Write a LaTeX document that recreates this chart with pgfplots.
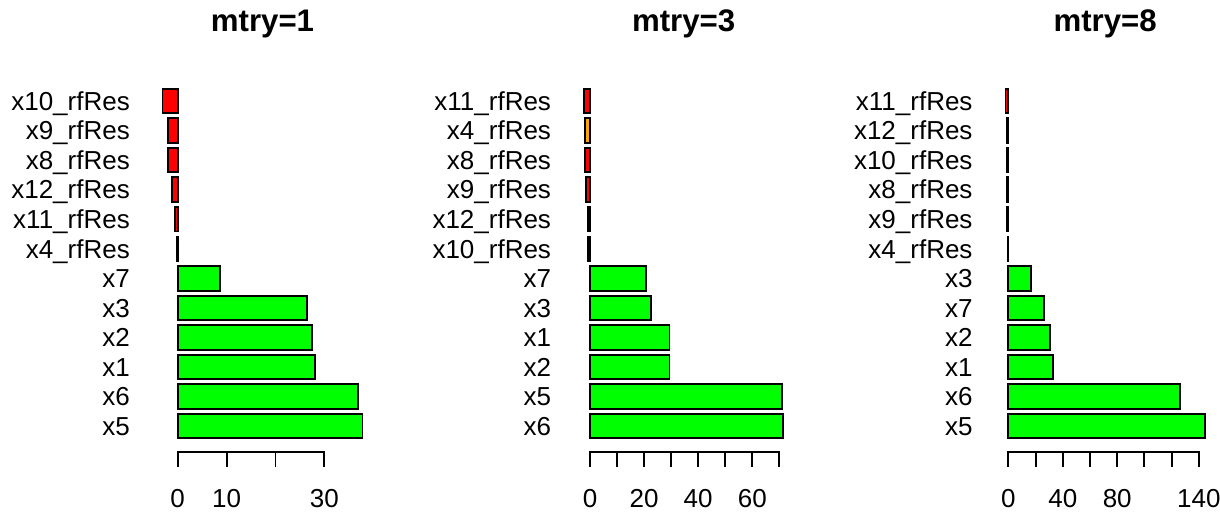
\documentclass[border=0pt]{standalone}
\usepackage{pgfplots}
\pgfplotsset{compat=1.18}
\usepackage{fontspec}
\setmainfont{Liberation Sans}
\definecolor{rgreen}{RGB}{0,255,0}
\definecolor{rred}{RGB}{255,0,0}
\definecolor{rorange}{RGB}{255,165,0}
\pgfplotsset{
 rpanel/.style={
  scale only axis, width=217pt, height=377.7pt,
  anchor=south west,
  ymin=-0.368, ymax=14.968,
  axis line style={draw=none},
  xtick pos=bottom, ytick pos=left,
  tick align=outside, major tick length=15pt,
  xtick style={draw=none},
  ytick style={draw=none},
  ytick={0.7,1.9,3.1,4.3,5.5,6.7,7.9,9.1,10.3,11.5,12.7,13.9},
  tick label style={font=\fontsize{26}{31}\selectfont, inner sep=0pt},
  xticklabel style={anchor=base, yshift=-40pt},
  yticklabel style={anchor=base east, xshift=-9pt, yshift=-9.3pt},
  title style={font=\bfseries\fontsize{31.2}{37}\selectfont, anchor=base, at={(0.5,1)}, yshift=36.7pt},
  clip=false,
 },
 rbar/.style={xbar, bar width=1, bar shift=0pt, draw=black, line width=1.9pt},
}
\newcommand{\rticks}[1]{\pgfplotsinvokeforeach{#1}{\draw[line width=1.9pt] (axis cs:##1,-0.368) -- ++(0pt,-15pt);}}
\begin{document}
\begin{tikzpicture}
\path[use as bounding box] (0pt,0pt) rectangle (1220pt,514pt);
% Panel 1
\begin{axis}[rpanel, at={(154pt,61.6pt)}, title={mtry=1},
  xmin=-4.844, xmax=39.544,
  xtick={0,10,20,30}, xticklabels={0,10,,30},
  yticklabels={x5,x6,x1,x2,x3,x7,x4\_rfRes,x11\_rfRes,x12\_rfRes,x8\_rfRes,x9\_rfRes,x10\_rfRes}]
\addplot[rbar, fill=rgreen] coordinates {(37.8,0.7) (36.9,1.9) (28.1,3.1) (27.4,4.3) (26.4,5.5) (8.7,6.7)};
\addplot[rbar, fill=rred] coordinates {(-0.1,7.9) (-0.6,9.1) (-1.1,10.3) (-2.0,11.5) (-2.0,12.7) (-3.1,13.9)};
\draw[line width=1.9pt, line cap=rect] (axis cs:0,-0.368) -- (axis cs:30,-0.368);
\rticks{0,10,20,30}
\end{axis}
% Panel 2
\begin{axis}[rpanel, at={(575.2pt,61.6pt)}, title={mtry=3},
  xmin=-5.47, xmax=74.77,
  xtick={0,10,20,30,40,50,60,70}, xticklabels={0,,20,,40,,60,},
  yticklabels={x6,x5,x2,x1,x3,x7,x10\_rfRes,x12\_rfRes,x9\_rfRes,x8\_rfRes,x4\_rfRes,x11\_rfRes}]
\addplot[rbar, fill=rgreen] coordinates {(71.5,0.7) (71.0,1.9) (29.4,3.1) (29.4,4.3) (22.4,5.5) (20.8,6.7)};
\addplot[rbar, fill=rred] coordinates {(-0.9,7.9) (-0.9,9.1) (-1.4,10.3) (-1.7,11.5) (-2.2,13.9)};
\addplot[rbar, fill=rorange] coordinates {(-1.75,12.7)};
\draw[line width=1.9pt, line cap=rect] (axis cs:0,-0.368) -- (axis cs:70,-0.368);
\rticks{0,10,20,30,40,50,60,70}
\end{axis}
% Panel 3
\begin{axis}[rpanel, at={(996.7pt,61.6pt)}, title={mtry=8},
  xmin=-8.56, xmax=150.9,
  xtick={0,20,40,60,80,100,120,140}, xticklabels={0,,40,,80,,,140},
  yticklabels={x5,x6,x1,x2,x7,x3,x4\_rfRes,x9\_rfRes,x8\_rfRes,x10\_rfRes,x12\_rfRes,x11\_rfRes}]
\addplot[rbar, fill=rgreen] coordinates {(144.5,0.7) (126.0,1.9) (32.7,3.1) (30.7,4.3) (26.3,5.5) (16.7,6.7)};
\addplot[rbar, fill=rred] coordinates {(-0.1,7.9) (-0.9,9.1) (-0.95,10.3) (-1.0,11.5) (-1.1,12.7) (-2.1,13.9)};
\draw[line width=1.9pt, line cap=rect] (axis cs:0,-0.368) -- (axis cs:140,-0.368);
\rticks{0,20,40,60,80,100,120,140}
\end{axis}
\end{tikzpicture}
\end{document}
